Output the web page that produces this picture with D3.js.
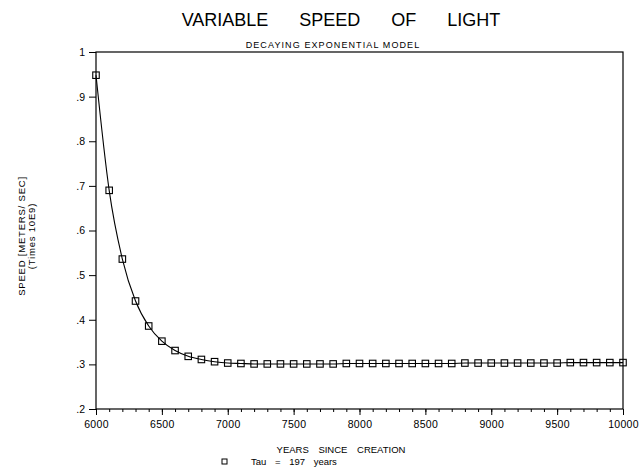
<!DOCTYPE html>
<html>
<head>
<meta charset="utf-8">
<script src="https://cdnjs.cloudflare.com/ajax/libs/d3/7.8.5/d3.min.js"></script>
<style>
	body { margin: 0; background: #fff; }
	svg { display: block; font-family: "Liberation Sans", Arial, sans-serif; }
</style>
</head>
<body>
<div id="chart"></div>
<script>

///////////////////////////////////////////////////////////////////////////
///////////////////////////////// Data ////////////////////////////////////
///////////////////////////////////////////////////////////////////////////

var years = [6000, 6100, 6200, 6300, 6400, 6500, 6600, 6700, 6800, 6900,
	7000, 7100, 7200, 7300, 7400, 7500, 7600, 7700, 7800, 7900,
	8000, 8100, 8200, 8300, 8400, 8500, 8600, 8700, 8800, 8900,
	9000, 9100, 9200, 9300, 9400, 9500, 9600, 9700, 9800, 9900, 10000];
var speed = [0.948, 0.690, 0.536, 0.442, 0.386, 0.352, 0.331, 0.318, 0.311, 0.306,
	0.303, 0.302, 0.301, 0.301, 0.301, 0.301, 0.301, 0.301, 0.301, 0.302,
	0.302, 0.302, 0.302, 0.302, 0.302, 0.302, 0.302, 0.302, 0.303, 0.303,
	0.303, 0.303, 0.303, 0.303, 0.303, 0.303, 0.304, 0.304, 0.304, 0.304, 0.304];

var xTicks = [6000, 6500, 7000, 7500, 8000, 8500, 9000, 9500, 10000];
var xMinorTicks = d3.range(6000, 10001, 100);
var yTicks = [0.2, 0.3, 0.4, 0.5, 0.6, 0.7, 0.8, 0.9, 1];
var yTickLabels = [".2", ".3", ".4", ".5", ".6", ".7", ".8", ".9", "1"];

var data = years.map(function(d, i) { return {year: d, speed: speed[i]}; });

///////////////////////////////////////////////////////////////////////////
//////////////////// Set up and initiate svg containers ///////////////////
///////////////////////////////////////////////////////////////////////////

var totalWidth = 640,
	totalHeight = 474;
var margin = {top: 52, right: 17, bottom: 65, left: 96};
var width = totalWidth - margin.left - margin.right;
var height = totalHeight - margin.top - margin.bottom;

var svgRoot = d3.select("#chart").append("svg")
	.attr("width", totalWidth)
	.attr("height", totalHeight);

var svg = svgRoot.append("g")
	.attr("transform", "translate(" + margin.left + "," + margin.top + ")");

var x = d3.scaleLinear().domain([6000, 10000]).range([0, width]);
var y = d3.scaleLinear().domain([0.2, 1]).range([height, 0]);

///////////////////////////////////////////////////////////////////////////
//////////////////////////////// Titles ///////////////////////////////////
///////////////////////////////////////////////////////////////////////////

svgRoot.append("text")
	.attr("x", 341)
	.attr("y", 26)
	.attr("text-anchor", "middle")
	.style("font-size", "18px")
	.style("word-spacing", "26px")
	.text("VARIABLE SPEED OF LIGHT");

svgRoot.append("text")
	.attr("x", 333)
	.attr("y", 48)
	.attr("text-anchor", "middle")
	.style("font-size", "9px")
	.style("letter-spacing", "1.1px")
	.text("DECAYING EXPONENTIAL MODEL");

///////////////////////////////////////////////////////////////////////////
///////////////////////////////// Axes ////////////////////////////////////
///////////////////////////////////////////////////////////////////////////

//Frame
svg.append("rect")
	.attr("width", width)
	.attr("height", height)
	.style("fill", "none")
	.style("stroke", "#000")
	.style("stroke-width", "1.2px");

//Minor x ticks
svg.append("g")
	.attr("transform", "translate(0," + height + ")")
	.call(d3.axisBottom(x).tickValues(xMinorTicks).tickSize(3).tickFormat(""))
	.call(function(g) { g.select(".domain").remove(); });

//Major x ticks with labels
var xAxis = svg.append("g")
	.attr("transform", "translate(0," + height + ")")
	.call(d3.axisBottom(x).tickValues(xTicks).tickSize(6).tickPadding(6).tickFormat(d3.format("d")));
xAxis.select(".domain").remove();
xAxis.selectAll("text")
	.style("font-size", "10.5px")
	.style("letter-spacing", "0.3px")
	.style("font-family", "'Liberation Sans', Arial, sans-serif");

//Y ticks
var yAxis = svg.append("g")
	.call(d3.axisLeft(y).tickValues(yTicks).tickSize(7).tickPadding(4)
		.tickFormat(function(d, i) { return yTickLabels[i]; }));
yAxis.select(".domain").remove();
yAxis.selectAll("text")
	.style("font-size", "10.5px")
	.style("font-family", "'Liberation Sans', Arial, sans-serif");

svg.selectAll(".tick line").style("stroke", "#000");

//Axis titles
svgRoot.append("text")
	.attr("x", 341)
	.attr("y", 453)
	.attr("text-anchor", "middle")
	.style("font-size", "9.5px")
	.style("word-spacing", "7px")
	.text("YEARS SINCE CREATION");

var yLabel = svgRoot.append("g")
	.attr("transform", "translate(0,236) rotate(-90)")
	.attr("text-anchor", "middle")
	.style("font-size", "9.5px")
	.style("letter-spacing", "0.8px");
yLabel.append("text").attr("x", 0).attr("y", 25).text("SPEED [METERS/ SEC]");
yLabel.append("text").attr("x", 0).attr("y", 35).text("(Times 10E9)");

///////////////////////////////////////////////////////////////////////////
///////////////////////////// Line and squares ////////////////////////////
///////////////////////////////////////////////////////////////////////////

var line = d3.line()
	.curve(d3.curveMonotoneX)
	.x(function(d) { return x(d.year); })
	.y(function(d) { return y(d.speed); });

svg.append("path")
	.datum(data)
	.attr("d", line)
	.style("fill", "none")
	.style("stroke", "#000")
	.style("stroke-width", "1.1px");

var sq = 6.5;
svg.selectAll(".marker")
	.data(data)
	.enter().append("rect")
	.attr("class", "marker")
	.attr("x", function(d) { return x(d.year) - sq/2; })
	.attr("y", function(d) { return y(d.speed) - sq/2; })
	.attr("width", sq)
	.attr("height", sq)
	.style("fill", "none")
	.style("stroke", "#000")
	.style("stroke-width", "1.1px");

///////////////////////////////////////////////////////////////////////////
//////////////////////////////// Legend ///////////////////////////////////
///////////////////////////////////////////////////////////////////////////

svgRoot.append("rect")
	.attr("x", 222)
	.attr("y", 459)
	.attr("width", 5)
	.attr("height", 5)
	.style("fill", "none")
	.style("stroke", "#000")
	.style("stroke-width", "1px");

svgRoot.append("text")
	.attr("x", 251)
	.attr("y", 465)
	.style("font-size", "9.5px")
	.style("word-spacing", "6px")
	.text("Tau = 197 years");

</script>
</body>
</html>
